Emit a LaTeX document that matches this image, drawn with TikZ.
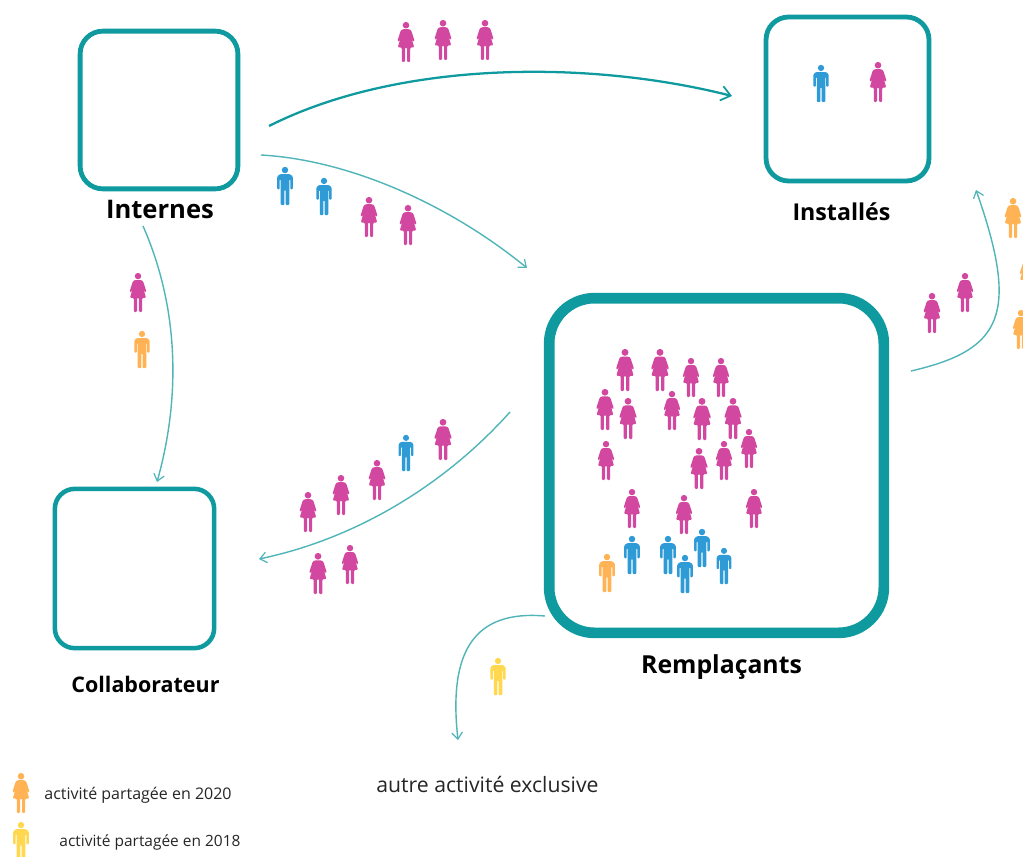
\documentclass[tikz,border=0pt]{standalone}
\usepackage{fontspec}
\setmainfont{Open Sans}
\usetikzlibrary{arrows.meta}
\definecolor{teal1}{HTML}{0E9A9E}
\definecolor{teal2}{HTML}{4FB5B7}
\definecolor{pinkp}{HTML}{D2479F}
\definecolor{bluep}{HTML}{2E9BD6}
\definecolor{orangep}{HTML}{FFB354}
\definecolor{yellowp}{HTML}{FFD84F}
\tikzset{
  x=0.75pt,y=-0.75pt,
  roombox/.style={draw=teal1,fill=white,inner sep=0pt},
  boxlabel/.style={font=\bfseries,text=black,inner sep=0pt,anchor=center},
  plainlabel/.style={text=black!85,inner sep=0pt,anchor=center},
  flowthick/.style={draw=teal1,line width=1.7pt,-{Straight Barb[length=7pt,width=11pt,line width=1.3pt]}},
  flowthin/.style={draw=teal2,line width=1.05pt,-{Straight Barb[length=5pt,width=8pt,line width=0.9pt]}},
}
% woman: centre x, top y, bottom y, colour
\newcommand\wom[4]{%
  \pgfmathsetmacro\ssc{(#3-#2)/40}%
  \begin{scope}[shift={(#1,#2)},xscale=\ssc,yscale=\ssc]
    \fill[#4] (0,3.2) circle[radius=3.3];
    \fill[#4,rounded corners=0.8] (-3.4,7.2) -- (3.4,7.2) -- (5.2,8.4) -- (8.6,19) -- (7.2,19.8) -- (5.4,15.5) -- (8.2,25.5) -- (4.2,25.5) -- (4.2,40) -- (1.0,40) -- (1.0,25.5) -- (-1.0,25.5) -- (-1.0,40) -- (-4.2,40) -- (-4.2,25.5) -- (-8.2,25.5) -- (-5.4,15.5) -- (-7.2,19.8) -- (-8.6,19) -- (-5.2,8.4) -- cycle;
  \end{scope}}
% man
\newcommand\man[4]{%
  \pgfmathsetmacro\ssc{(#3-#2)/40}%
  \begin{scope}[shift={(#1,#2)},xscale=\ssc,yscale=\ssc]
    \fill[#4] (0,3.2) circle[radius=3.4];
    \fill[#4,rounded corners=0.7] (-5.5,7.6) -- (5.5,7.6) -- (8.2,10) -- (8.2,23.5) -- (5.6,23.5) -- (5.6,13) -- (4.6,13) -- (4.6,40) -- (0.6,40) -- (0.6,24) -- (-0.6,24) -- (-0.6,40) -- (-4.6,40) -- (-4.6,13) -- (-5.6,13) -- (-5.6,23.5) -- (-8.2,23.5) -- (-8.2,10) -- cycle;
  \end{scope}}
\begin{document}
\begin{tikzpicture}
\useasboundingbox (0,0) rectangle (1023,856);
\fill[white] (0,0) rectangle (1023,856);
\clip (0,0) rectangle (1023,856);
% boxes
\node[roombox,line width=3.6pt,rounded corners=17pt,minimum width=118.3pt,minimum height=118.3pt] (internes) at (159,110) {};
\node[roombox,line width=3.6pt,rounded corners=17pt,minimum width=122.2pt,minimum height=123pt] (installes) at (847.5,99) {};
\node[roombox,line width=8pt,rounded corners=34pt,minimum width=251pt,minimum height=251pt] (remplacants) at (716.5,465.5) {};
\node[roombox,line width=3.4pt,rounded corners=15pt,minimum width=119.5pt,minimum height=119.5pt] (collab) at (134.5,568.5) {};
% labels
\node[boxlabel,font=\bfseries\fontsize{19.2pt}{20pt}\selectfont] (linternes) at (160,209.5) {Internes};
\node[boxlabel,font=\bfseries\fontsize{17.4pt}{20pt}\selectfont] (linstalles) at (841.5,211.5) {Installés};
\node[boxlabel,font=\bfseries\fontsize{18.6pt}{20pt}\selectfont] (lremp) at (721.5,667) {Remplaçants};
\node[boxlabel,font=\bfseries\fontsize{16.1pt}{20pt}\selectfont] (lcollab) at (145.5,684) {Collaborateur};
\node[plainlabel,font=\fontsize{15.9pt}{18pt}\selectfont] (lautre) at (487.5,784) {autre activité exclusive};
\node[plainlabel,font=\fontsize{12pt}{14pt}\selectfont] (lleg1) at (138,795) {activité partagée en 2020};
\node[plainlabel,font=\fontsize{11.6pt}{14pt}\selectfont] (lleg2) at (150,842) {activité partagée en 2018};
% connector ends
\coordinate (a1) at (269,126);
\coordinate (a2) at (732,96);
\coordinate (b1) at (261,155);
\coordinate (b2) at (527,268);
\coordinate (c1) at (143,226);
\coordinate (c2) at (157,482);
\coordinate (d1) at (510,412);
\coordinate (d2) at (259,559);
\coordinate (e1) at (911,371);
\coordinate (e2) at (976,190);
\coordinate (f1) at (545,616);
\coordinate (f2) at (458,740);
\draw[flowthick] (a1) .. controls (400,60) and (590,60) .. (a2);
\draw[flowthin] (b1) .. controls (350,160) and (450,205) .. (b2);
\draw[flowthin] (c1) .. controls (180,310) and (180,400) .. (c2);
\draw[flowthin] (d1) .. controls (440,490) and (350,540) .. (d2);
\draw[flowthin] (e1) .. controls (1002,350) and (1020,315) .. (e2);
\draw[flowthin] (f1) .. controls (475,610) and (448,650) .. (f2);
% people in Remplaçants
\foreach \a/\b/\c in {625/349/391,660/349/391,691/358/397,721/358/397,605/389/430,628/398/439,672/391/430,702/398/440,733/398/439,749/429/468,606/441/480,699/448/489,724/441/480,632/489/528,684/495/534,754/489/528}{\wom{\a}{\b}{\c}{pinkp}}
\foreach \a/\b/\c in {632/536/574,668/536/574,685/555/593,702/529/567,724/548/584}{\man{\a}{\b}{\c}{bluep}}
\man{607}{554}{592}{orangep}
% other people
\foreach \a/\b/\c in {406/22/62,443/20/60,485/20/60,878/62/102,369/197/237,408/205/245,138/273/312,443/419/460,377/460/500,341/475/515,308/492/532,318/553/594,350/545/584,932/293/333,965/273/312}{\wom{\a}{\b}{\c}{pinkp}}
\foreach \a/\b/\c in {821/65/102,285/167/205,324/178/215,406/435/471}{\man{\a}{\b}{\c}{bluep}}
\man{142}{331}{368}{orangep}
\man{498}{658}{695}{yellowp}
\foreach \a/\b/\c in {1013/198/238,1028/255/294,1021/310/349,21/773/813}{\wom{\a}{\b}{\c}{orangep}}
\man{21}{822}{860}{yellowp}
\end{tikzpicture}
\end{document}
